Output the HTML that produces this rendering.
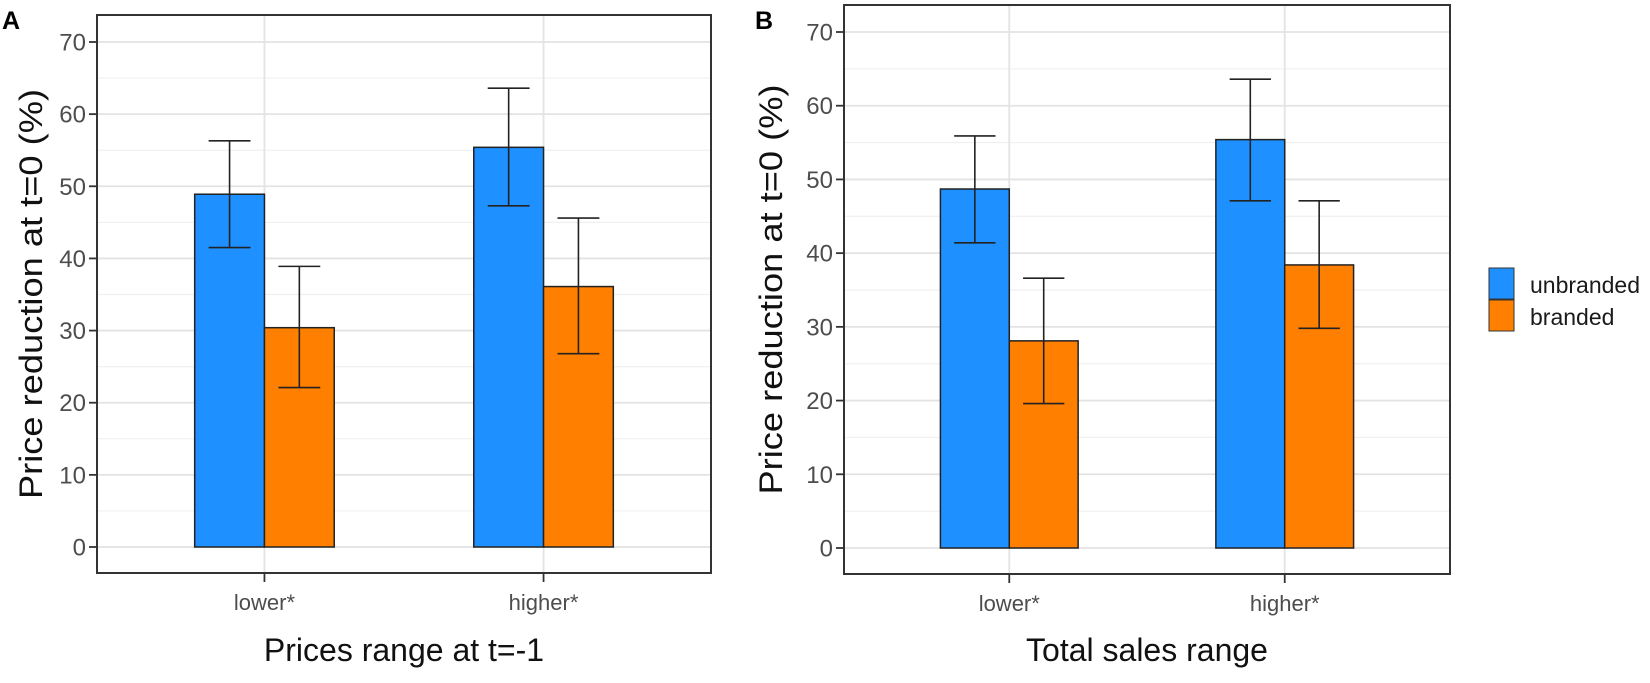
<!DOCTYPE html>
<html><head><meta charset="utf-8"><style>
html,body{margin:0;padding:0;background:#fff;}
svg{display:block;font-family:"Liberation Sans",sans-serif;}
</style></head><body>
<svg id="chart" width="1650" height="683" viewBox="0 0 1650 683">
<text x="2" y="29" font-size="25" font-weight="bold">A</text>
<text x="755" y="29" font-size="25" font-weight="bold">B</text>
<g id="legend">
<rect x="1489" y="268" width="25" height="31" fill="#1E90FF" stroke="#333" stroke-width="1"/>
<rect x="1489" y="300" width="25" height="31" fill="#FF8000" stroke="#333" stroke-width="1"/>
<text x="1530" y="293" font-size="23" fill="#1a1a1a">unbranded</text>
<text x="1530" y="325" font-size="23" fill="#1a1a1a">branded</text>
</g>
</svg>
<script>
const categories = ["lower*", "higher*"];
const seriesNames = ["unbranded", "branded"];
const yTicks = [0, 10, 20, 30, 40, 50, 60, 70];
const aUnbranded = [48.9, 55.4];
const aUnbrandedLo = [41.5, 47.3];
const aUnbrandedHi = [56.3, 63.6];
const aBranded = [30.4, 36.1];
const aBrandedLo = [22.1, 26.8];
const aBrandedHi = [38.9, 45.6];
const bUnbranded = [48.7, 55.4];
const bUnbrandedLo = [41.4, 47.1];
const bUnbrandedHi = [55.9, 63.6];
const bBranded = [28.1, 38.4];
const bBrandedLo = [19.6, 29.8];
const bBrandedHi = [36.6, 47.1];

const NS = "http://www.w3.org/2000/svg";
const svg = document.getElementById("chart");
function mk(tag, attrs, parent) {
  const e = document.createElementNS(NS, tag);
  for (const k in attrs) e.setAttribute(k, attrs[k]);
  (parent || svg).appendChild(e);
  return e;
}
const colors = ["#1E90FF", "#FF8000"];

function panel(id, box, y0px, y70px, vals, los, his, xTitle, yTitleX) {
  const g = mk("g", {});
  
  
  const yScale = v => y0px + (y70px - y0px) * v / 70;
  const unit = (box.r - box.l) / (categories.length - 1 + 1.2);
  const xScale = i => box.l + unit * (0.6 + i);
  // minor grid
  for (let v = 5; v <= 75; v += 10) {
    const y = yScale(v);
    if (y < box.t) continue;
    const ln = mk("line", {x1: box.l, x2: box.r, y1: y, y2: y, stroke: "#f0f0f0", "stroke-width": 1.2}, g);
    
    
  }
  yTicks.forEach(v => {
    const y = yScale(v);
    const ln = mk("line", {x1: box.l, x2: box.r, y1: y, y2: y, stroke: "#e3e3e3", "stroke-width": 1.8}, g);
    
    
    const tk = mk("line", {x1: box.l - 8, x2: box.l, y1: y, y2: y, stroke: "#333", "stroke-width": 1.8}, g);
    
    
    const t = mk("text", {x: box.l - 11, y: y + 8.5, "font-size": 24, fill: "#4d4d4d", "text-anchor": "end"}, g);
    t.textContent = v;
    
    
  });
  categories.forEach((c, i) => {
    const x = xScale(i);
    const ln = mk("line", {x1: x, x2: x, y1: box.t, y2: box.b, stroke: "#e3e3e3", "stroke-width": 1.8}, g);
    
    
  });
  const bw = unit * 0.25;
  categories.forEach((c, i) => {
    const cx = xScale(i);
    for (let s = 0; s < 2; s++) {
      const x = cx - bw + s * bw;
      const yt = yScale(vals[s][i]);
      const r = mk("rect", {x: x, y: yt, width: bw, height: yScale(0) - yt, fill: colors[s], stroke: "#222", "stroke-width": 1.5}, g);
      
      
    }
  });
  categories.forEach((c, i) => {
    const cx = xScale(i);
    for (let s = 0; s < 2; s++) {
      const mx = cx - bw / 2 + s * bw;
      const cw = unit * 0.075;
      const eg = mk("g", {stroke: "#222", "stroke-width": 1.6}, g);
      
      
      const yl = yScale(los[s][i]), yh = yScale(his[s][i]);
      mk("line", {x1: mx, x2: mx, y1: yl, y2: yh}, eg);
      mk("line", {x1: mx - cw, x2: mx + cw, y1: yl, y2: yl}, eg);
      mk("line", {x1: mx - cw, x2: mx + cw, y1: yh, y2: yh}, eg);
    }
    const tk = mk("line", {x1: cx, x2: cx, y1: box.b, y2: box.b + 9, stroke: "#333", "stroke-width": 1.8}, g);
    
    
    const t = mk("text", {x: cx, y: box.b + 37, "font-size": 22, fill: "#4d4d4d", "text-anchor": "middle"}, g);
    t.textContent = c;
    
    
  });
  const border = mk("rect", {x: box.l, y: box.t, width: box.r - box.l, height: box.b - box.t, fill: "none", stroke: "#333", "stroke-width": 2}, g);
  
  
  const xt = mk("text", {x: (box.l + box.r) / 2, y: 661, "font-size": 32, fill: "#111", "text-anchor": "middle"}, g);
  xt.textContent = xTitle;
  
  
  const cy = (box.t + box.b) / 2;
  const yt = mk("text", {x: yTitleX, y: cy, "font-size": 32, fill: "#111", "text-anchor": "middle", transform: "rotate(-90 " + yTitleX + " " + cy + ")", textLength: 410, lengthAdjust: "spacingAndGlyphs"}, g);
  yt.textContent = "Price reduction at t=0 (%)";
  
  
}

panel("panel-a", {l: 97, r: 711, t: 15, b: 573}, 547, 42,
  [aUnbranded, aBranded], [aUnbrandedLo, aBrandedLo], [aUnbrandedHi, aBrandedHi], "Prices range at t=-1", 42);
panel("panel-b", {l: 844, r: 1450, t: 5, b: 574}, 548, 32,
  [bUnbranded, bBranded], [bUnbrandedLo, bBrandedLo], [bUnbrandedHi, bBrandedHi], "Total sales range", 782);
svg.appendChild(document.getElementById("legend"));
</script>
</body></html>
